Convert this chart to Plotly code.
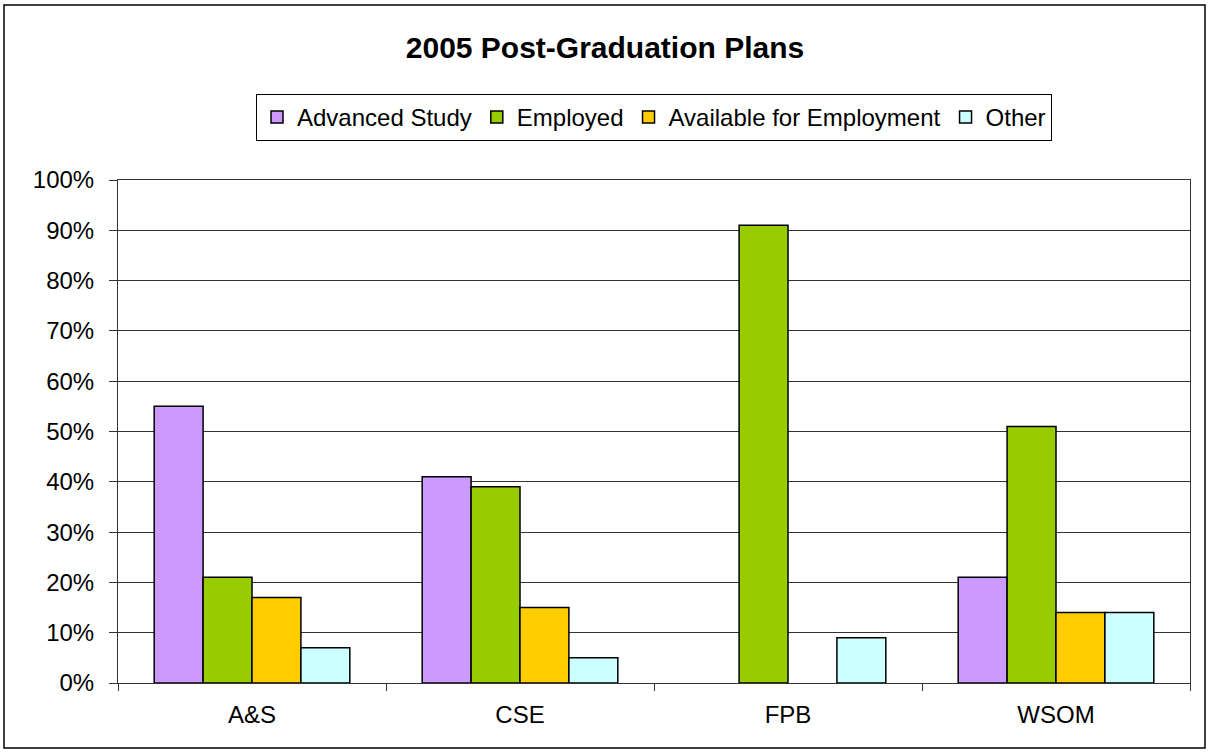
import plotly.graph_objects as go

categories = ["A&S", "CSE", "FPB", "WSOM"]
advanced_study = [0.55, 0.41, 0.0, 0.21]
employed = [0.21, 0.39, 0.91, 0.51]
available = [0.17, 0.15, 0.0, 0.14]
other = [0.07, 0.05, 0.09, 0.14]
series_names = ["Advanced Study", "Employed", "Available for Employment", "Other"]
colors = ["#CC99FF", "#99CC00", "#FFCC00", "#CCFFFF"]
y_ticks = [0, 0.1, 0.2, 0.3, 0.4, 0.5, 0.6, 0.7, 0.8, 0.9, 1.0]
y_tick_labels = ["0%", "10%", "20%", "30%", "40%", "50%", "60%", "70%", "80%", "90%", "100%"]

fig = go.Figure()
for name, vals, col in zip(series_names, [advanced_study, employed, available, other], colors):
    fig.add_trace(go.Bar(x=categories, y=vals, name=name,
                         marker=dict(color=col,
                                     line=dict(color="black",
                                               width=[1.5 if v > 0 else 0 for v in vals]))))

FONT = "Liberation Sans, Arial, sans-serif"
W, H = 1210, 754
L, R, T, B = 118, 20, 180, 71
PW, PH = W - L - R, H - T - B

fig.update_layout(
    width=W, height=H,
    margin=dict(l=L, r=R, t=T, b=B),
    paper_bgcolor="white", plot_bgcolor="white",
    barmode="group", bargap=0.27, bargroupgap=0,
    font=dict(family=FONT, size=24, color="black"),
    title=dict(text="<b>2005 Post-Graduation Plans</b>", x=0.5, xanchor="center",
               y=1 - 47 / H, yanchor="middle", font=dict(size=30, family=FONT)),
    legend=dict(orientation="h", x=0.5, xanchor="center", y=(683 - 94) / PH, yanchor="top",
                bordercolor="black", borderwidth=1, font=dict(size=24),
                itemwidth=30, tracegroupgap=0),
    showlegend=True,
)
fig.update_xaxes(showline=True, linecolor="#333333", linewidth=1, mirror=True,
                 ticks="outside", tickson="boundaries", ticklen=7, tickcolor="#333333",
                 showgrid=False, tickfont=dict(size=24), ticklabelstandoff=10)
fig.update_yaxes(range=[0, 1.0], tickvals=y_ticks, ticktext=y_tick_labels,
                 showline=True, linecolor="#333333", linewidth=1, mirror=True,
                 ticks="outside", ticklen=8, tickcolor="#333333",
                 showgrid=True, gridcolor="#333333", gridwidth=1,
                 tickfont=dict(size=24), zeroline=False, ticklabelstandoff=10)
# outer chart border
fig.add_shape(type="rect", xref="paper", yref="paper",
              x0=(4 - L) / PW, x1=(1205 - L) / PW,
              y0=(683 - 748) / PH, y1=(683 - 5) / PH,
              line=dict(color="black", width=1.5), fillcolor="rgba(0,0,0,0)", layer="below")
fig.write_html("out.html", config={"displayModeBar": False},
               post_script="document.body.style.margin='0';document.body.style.overflow='hidden';")
